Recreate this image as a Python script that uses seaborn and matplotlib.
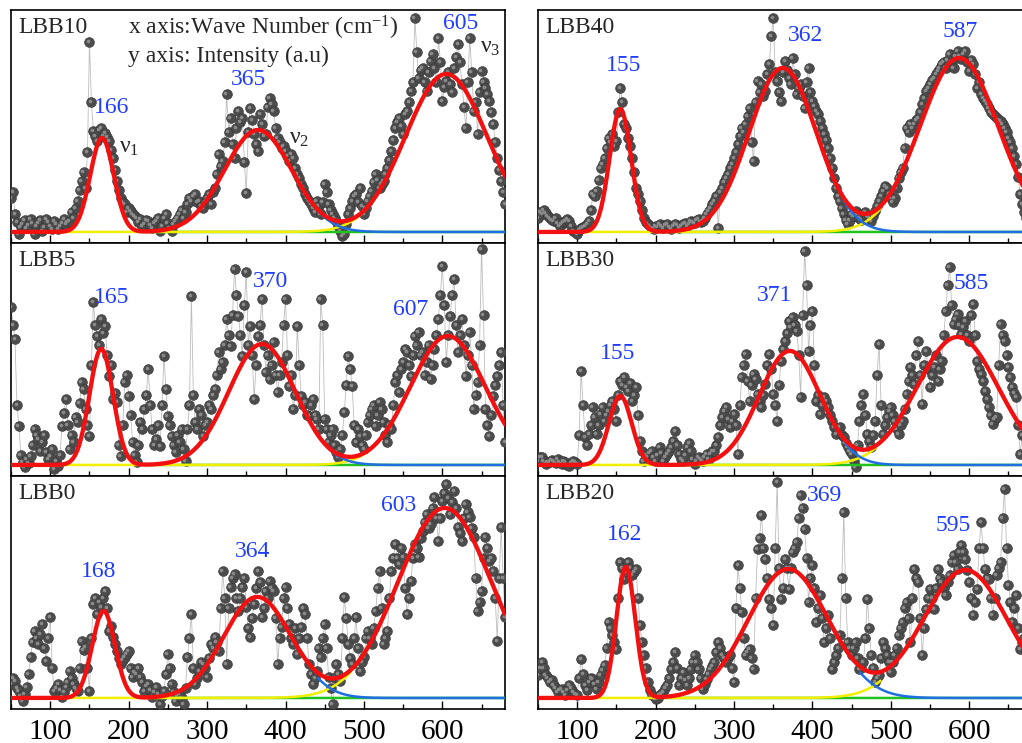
import numpy as np
import pandas as pd
import matplotlib
matplotlib.use("Agg")
import matplotlib.pyplot as plt
from matplotlib.transforms import offset_copy
from matplotlib.ticker import MultipleLocator
import seaborn as sns

# Raman wave-number grid (cm^-1), one reading every 2.5 cm^-1
WAVENUMBER = np.arange(50, 680.1, 2.5)

# Measured intensities (a.u.) for each sample, each row covers 25 cm^-1
LBB10 = [34, 40, 18, 10, -2, 5, 8, 12, 4, 7,
         13, 9, -2, 6, 9, 12, 1, 5, 13, 10,
         6, 3, 11, 8, 3, 6, 9, 13, 8, 10,
         11, 20, 14, 24, 31, 42, 51, 60, 44, 80,
         190, 130, 101, 96, 91, 102, 104, 96, 99, 95,
         91, 82, 74, 62, 51, 42, 34, 30, 28, 20,
         24, 21, 18, 16, 14, 10, 13, 6, 8, 12,
         11, 7, 4, 9, 11, 14, 1, 6, 14, 18,
         9, 4, 1, 8, 11, 14, 18, 22, 14, 20,
         28, 34, 31, 36, 38, 30, 31, 26, 24, 30,
         34, 38, 28, 40, 44, 58, 78, 66, 71, 90,
         138, 100, 114, 88, 74, 104, 121, 110, 114, 70,
         39, 100, 124, 112, 98, 88, 81, 118, 108, 96,
         98, 125, 134, 128, 121, 104, 94, 90, 84, 86,
         81, 76, 71, 78, 74, 64, 58, 54, 48, 44,
         38, 34, 31, 28, 24, 20, 31, 26, 18, 30,
         48, 40, 28, 22, 18, 14, 11, 6, 1, -4,
         -2, 8, 18, 24, 31, 36, 38, 30, 44, 26,
         18, 24, 31, 36, 41, 50, 58, 52, 44, 48,
         51, 58, 64, 72, 81, 92, 104, 110, 114, 106,
         98, 118, 121, 130, 141, 150, 214, 180, 154, 162,
         164, 150, 141, 160, 171, 178, 164, 150, 194, 170,
         131, 145, 151, 160, 148, 140, 164, 175, 188, 170,
         148, 125, 104, 150, 194, 160, 121, 130, 98, 140,
         161, 150, 144, 138, 131, 120, 108, 90, 74, 62,
         51, 40, 28]

LBB5 = [158, 140, 126, 60, 39, 10, 3, -2, 6, 2,
        9, 20, 36, 30, 26, 14, 23, 30, 13, 6,
        9, 16, -4, 4, -1, 10, 39, 52, 66, 40,
        16, 30, 23, 48, 43, 62, 83, 76, 56, 40,
        29, 100, 163, 140, 129, 120, 146, 132, 139, 110,
        89, 100, 66, 72, 63, 20, 9, 40, 83, 90,
        69, 50, 23, 10, 3, 20, 43, 36, 56, 70,
        96, 60, 36, 20, 26, 40, 19, 60, 109, 76,
        49, 40, 29, 20, 13, 30, 23, 36, 16, 4,
        36, 60, 169, 70, 43, 36, 56, 50, 29, 40,
        43, 60, 56, 70, 76, 90, 113, 96, 103, 120,
        146, 130, 119, 150, 196, 170, 149, 130, 109, 160,
        193, 120, 139, 110, 66, 100, 129, 140, 166, 120,
        93, 110, 86, 100, 123, 90, 73, 90, 103, 140,
        166, 110, 79, 90, 56, 70, 139, 100, 69, 60,
        63, 50, 49, 60, 66, 50, 46, 36, 166, 140,
        46, 36, 23, 30, 36, 20, 13, 8, 16, 30,
        53, 80, 109, 96, 79, 40, 23, 36, 29, 20,
        16, 30, 43, 50, 56, 60, 39, 50, 63, 56,
        43, 30, 23, 40, 36, 60, 83, 90, 73, 96,
        103, 116, 113, 100, 89, 110, 129, 120, 133, 110,
        113, 90, 103, 120, 86, 100, 116, 130, 146, 170,
        199, 160, 103, 130, 149, 170, 186, 140, 113, 130,
        146, 120, 89, 110, 133, 100, 56, 70, 83, 120,
        216, 150, 56, 40, 29, 50, 69, 80, 89, 100,
        113, 60, 23]

LBB0 = [14, 20, 17, 10, 7, 2, -3, 4, 11, 24,
        41, 56, 67, 60, 54, 64, 74, 50, 37, 60,
        81, 30, 7, 10, 14, 8, 1, 6, 11, 16,
        27, 20, 14, 10, 7, 30, 57, 48, 51, 30,
        7, 60, 94, 100, 84, 96, 91, 100, 107, 90,
        67, 72, 61, 54, 47, 40, 34, 38, 41, 44,
        47, 30, 21, 26, 24, 30, 21, 16, 7, 12,
        14, 8, 1, 6, 11, 4, -6, 2, 7, 24,
        44, 30, 14, 6, -3, 2, 4, 0, -6, 10,
        41, 60, 84, 30, 14, 20, 27, 36, 34, 30,
        21, 40, 54, 50, 61, 56, 47, 90, 127, 100,
        34, 90, 111, 120, 124, 100, 87, 100, 111, 120,
        91, 70, 61, 80, 94, 110, 127, 116, 81, 90,
        107, 100, 117, 110, 107, 80, 34, 60, 71, 100,
        111, 90, 74, 60, 54, 70, 44, 60, 71, 90,
        84, 60, 34, 24, 14, 20, 27, 50, 41, 60,
        74, 50, 21, 10, -6, 20, 34, 24, 17, 60,
        101, 80, 54, 40, 34, 60, 81, 50, 27, 36,
        41, 60, 67, 60, 54, 70, 87, 110, 127, 90,
        54, 60, 67, 100, 127, 140, 154, 140, 134, 150,
        141, 110, 84, 100, 117, 140, 154, 150, 141, 160,
        167, 176, 184, 170, 174, 190, 201, 180, 157, 180,
        197, 205, 214, 200, 184, 196, 207, 190, 171, 165,
        157, 180, 194, 186, 181, 170, 161, 120, 87, 96,
        107, 140, 161, 150, 137, 140, 127, 100, 57, 120,
        171, 120, 81]

LBB40 = [14, 20, 18, 22, 19, 16, 14, 12, 11, 14,
         9, 6, 8, 10, 11, 13, 11, 6, 1, 0,
         -2, 2, 4, 5, 6, 8, 11, 22, 38, 36,
         41, 52, 64, 68, 74, 84, 94, 90, 98, 86,
         91, 120, 144, 130, 108, 104, 94, 86, 74, 60,
         44, 38, 31, 22, 14, 10, 8, 6, 4, 3,
         6, 5, 8, 6, 4, 7, 8, 5, 3, 6,
         8, 7, 4, 6, 8, 9, 6, 8, 11, 10,
         9, 12, 13, 10, 11, 14, 18, 21, 24, 28,
         31, 36, 4, 40, 44, 50, 54, 58, 64, 68,
         74, 80, 88, 96, 104, 100, 108, 116, 124, 90,
         71, 130, 151, 140, 148, 136, 141, 158, 168, 196,
         214, 160, 151, 140, 131, 160, 171, 162, 154, 148,
         174, 158, 138, 144, 148, 136, 124, 150, 164, 140,
         131, 126, 121, 118, 111, 104, 98, 92, 84, 74,
         64, 54, 44, 36, 31, 24, 18, 12, 8, 12,
         18, 16, 21, 18, 14, 12, 18, 20, 16, 14,
         11, 16, 21, 26, 31, 36, 41, 46, 44, 38,
         34, 30, 34, 44, 54, 60, 64, 84, 104, 100,
         108, 104, 108, 112, 114, 120, 128, 134, 141, 144,
         148, 152, 154, 158, 161, 164, 168, 170, 164, 172,
         178, 170, 164, 176, 181, 176, 173, 178, 181, 170,
         161, 172, 168, 158, 144, 150, 138, 134, 131, 128,
         124, 120, 118, 116, 114, 112, 111, 108, 104, 100,
         94, 90, 84, 76, 68, 55, 38, 28, 20, 14,
         10, 9, 8]

LBB30 = [4, 8, 8, 4, 1, 3, 3, 5, 4, 2,
         6, 3, 1, 4, 3, 0, -1, 2, 4, 3,
         1, 30, 94, 60, 28, 20, 31, 40, 58, 48,
         31, 40, 51, 58, 44, 50, 54, 60, 64, 56,
         44, 70, 84, 80, 88, 78, 74, 82, 64, 70,
         78, 50, 24, 14, 4, 10, 8, 12, 14, 8,
         4, 10, 18, 12, 4, 8, 11, 14, 18, 24,
         34, 20, 11, 6, 4, 10, 18, 22, 14, 6,
         1, 4, 8, 6, 4, 8, 11, 6, 11, 14,
         14, 20, 28, 40, 48, 54, 58, 46, 38, 44,
         51, 40, 11, 60, 88, 100, 111, 84, 64, 80,
         91, 86, 71, 64, 58, 70, 81, 100, 111, 96,
         71, 60, 44, 80, 104, 116, 124, 132, 144, 138,
         148, 140, 134, 110, 68, 150, 214, 180, 114, 140,
         154, 100, 64, 70, 51, 60, 68, 64, 58, 50,
         44, 38, 31, 36, 38, 30, 28, 22, 18, 14,
         11, 4, -2, 20, 44, 60, 71, 50, 31, 24,
         18, 30, 44, 90, 121, 60, 31, 40, 48, 54,
         58, 50, 44, 36, 31, 40, 44, 56, 71, 84,
         98, 90, 81, 110, 124, 90, 61, 100, 114, 96,
         78, 90, 98, 110, 84, 96, 104, 130, 154, 180,
         198, 160, 141, 146, 151, 140, 131, 138, 144, 130,
         124, 150, 161, 130, 104, 96, 91, 84, 74, 66,
         58, 50, 41, 46, 48, 100, 141, 130, 124, 110,
         98, 88, 78, 72, 68, 40, 11, 30, 40, 36,
         30, 24, 20]

LBB20 = [23, 30, 36, 30, 23, 20, 16, 18, 13, 10,
         6, 8, 9, 6, 3, 8, 13, 10, 6, 4,
         3, 20, 39, 24, 13, 8, 16, 20, 19, 14,
         9, 16, 23, 28, 33, 50, 76, 70, 63, 56,
         49, 100, 136, 130, 119, 126, 136, 130, 123, 126,
         129, 100, 73, 56, 43, 30, 16, 8, 3, 2,
         -1, 0, 3, 4, 6, 10, 13, 20, 29, 36,
         46, 30, 13, 20, 26, 18, 13, 20, 29, 36,
         43, 36, 29, 20, 9, 14, 19, 24, 29, 32,
         36, 46, 56, 50, 43, 40, 36, 40, 43, 30,
         16, 90, 133, 110, 86, 60, 43, 46, 49, 40,
         29, 100, 149, 160, 183, 150, 139, 120, 99, 90,
         73, 150, 216, 130, 99, 110, 139, 130, 109, 130,
         146, 150, 156, 180, 203, 190, 169, 140, 96, 120,
         133, 110, 76, 90, 103, 80, 56, 70, 83, 60,
         29, 36, 43, 50, 63, 120, 186, 100, 56, 50,
         43, 50, 56, 40, 29, 30, 36, 60, 99, 70,
         43, 30, 16, 20, 23, 40, 56, 50, 43, 36,
         26, 36, 43, 50, 63, 70, 76, 90, 96, 80,
         56, 100, 129, 120, 116, 80, 43, 70, 89, 100,
         109, 100, 89, 110, 129, 120, 116, 110, 103, 116,
         123, 136, 143, 136, 129, 146, 153, 146, 139, 128,
         116, 100, 83, 96, 109, 150, 176, 150, 129, 120,
         119, 100, 83, 100, 123, 130, 136, 180, 209, 150,
         113, 96, 76, 90, 103, 70, 49, 56, 60, 50,
         40, 34, 30]

# Fitted band positions (cm^-1), amplitudes and widths for nu1, nu2, nu3
PEAKS = {"LBB10": [166, 365, 605], "LBB5": [165, 370, 607], "LBB0": [168, 364, 603],
         "LBB40": [155, 362, 587], "LBB30": [155, 371, 585], "LBB20": [162, 369, 595]}
AMPS = {"LBB10": [94, 102, 158], "LBB5": [116, 121, 129], "LBB0": [87, 101, 190],
        "LBB40": [123, 164, 174], "LBB30": [69, 114, 128], "LBB20": [131, 129, 128]}
SIGMAS = {"LBB10": [15, 43, 52], "LBB5": [15, 42.5, 48], "LBB0": [14.5, 43, 60],
          "LBB40": [13.6, 43, 50], "LBB30": [14.5, 39, 52], "LBB20": [12, 51, 54]}

# Where the band-position labels sit (x in cm^-1, y in a.u.)
LABEL_POS = {"LBB10": [(178, 124), (353, 152), (623, 208)],
             "LBB5": [(178, 167), (381, 183), (559, 155)],
             "LBB0": [(162, 126), (358, 146), (544, 192)],
             "LBB40": [(159, 166), (391, 196), (588, 200)],
             "LBB30": [(152, 111), (352, 169), (603, 181)],
             "LBB20": [(161, 163), (415, 202), (579, 172)]}

DATA = {"LBB10": LBB10, "LBB5": LBB5, "LBB0": LBB0,
        "LBB40": LBB40, "LBB30": LBB30, "LBB20": LBB20}
LAYOUT = [["LBB10", "LBB40"], ["LBB5", "LBB30"], ["LBB0", "LBB20"]]

sns.set_style("white")
plt.rcParams["font.family"] = ["Liberation Serif", "DejaVu Serif"]
plt.rcParams["mathtext.fontset"] = "custom"
plt.rcParams["mathtext.rm"] = "Liberation Serif"
plt.rcParams["mathtext.it"] = "Liberation Serif:italic"

fig = plt.figure(figsize=(10.22, 7.43), dpi=100)

col_left = [0.0108, 0.5264]
col_width = 0.4834
row_bottom = [0.673, 0.3594, 0.0458]
row_height = 0.3136

BLUE_TXT = "#1f3dff"
fine = np.linspace(50, 680, 800)

for r, row in enumerate(LAYOUT):
    for c, name in enumerate(row):
        ax = fig.add_axes([col_left[c], row_bottom[r], col_width, row_height])
        df = pd.DataFrame({"wn": WAVENUMBER, "I": DATA[name]})

        sns.lineplot(data=df, x="wn", y="I", ax=ax, color="#bdbdbd", lw=0.6,
                     sort=False, estimator=None, zorder=2)
        sns.scatterplot(data=df, x="wn", y="I", ax=ax, s=50, color="#4c4c4c",
                        edgecolor="#363636", linewidth=0.4, zorder=3)
        hl = offset_copy(ax.transData, fig=fig, x=-1.4, y=1.4, units="dots")
        sns.scatterplot(data=df, x="wn", y="I", ax=ax, s=7, color="#8a8a8a",
                        linewidth=0, zorder=4, transform=hl)

        comps = [a * np.exp(-(fine - p) ** 2 / (2 * s ** 2))
                 for p, a, s in zip(PEAKS[name], AMPS[name], SIGMAS[name])]
        total = comps[0] + comps[1] + comps[2]
        p2, p3 = PEAKS[name][1], PEAKS[name][2]
        s2, s3 = SIGMAS[name][1], SIGMAS[name][2]

        ax.plot(fine, comps[0], color="#22c21c", lw=1.8, zorder=5)
        m3 = fine <= p3 - 2.0 * s3
        ax.plot(fine[m3], comps[2][m3], color="#f2ee00", lw=1.8, zorder=6)
        m2 = fine >= p2 + 1.8 * s2
        ax.plot(fine[m2], comps[1][m2], color="#1f6fe0", lw=1.8, zorder=6)
        sns.lineplot(x=fine, y=total, ax=ax, color="#f21010", lw=3.1, zorder=7)

        for pk, (lx, ly) in zip(PEAKS[name], LABEL_POS[name]):
            ax.text(lx, ly, f"{pk}", color=BLUE_TXT, fontsize=17,
                    ha="center", va="center", zorder=8)

        ax.text(0.014, 0.925, name, transform=ax.transAxes, fontsize=17,
                ha="left", va="center", zorder=8)

        ax.set_xlim(50, 680)
        ax.set_ylim(-11, 222)
        ax.set_xlabel("")
        ax.set_ylabel("")
        ax.set_yticks([])
        ax.xaxis.set_major_locator(MultipleLocator(100))
        ax.xaxis.set_minor_locator(MultipleLocator(50))
        ax.tick_params(axis="x", which="both", direction="in", top=False,
                       bottom=True, labelsize=21, pad=7, colors="black")
        ax.tick_params(axis="x", which="major", length=6, width=1.0)
        ax.tick_params(axis="x", which="minor", length=3.5, width=1.0)
        if r < 2:
            ax.tick_params(axis="x", labelbottom=False)
        for sp in ax.spines.values():
            sp.set_color("black")
            sp.set_linewidth(1.2)
            sp.set_visible(True)
        if name == "LBB10":
            ax.text(199, 204, r"x axis:Wave Number (cm$^{-1}$)", fontsize=17,
                    ha="left", va="center", zorder=8)
            ax.text(199, 176, "y axis: Intensity (a.u)", fontsize=17,
                    ha="left", va="center", zorder=8)
            ax.text(200, 84, r"$\mathrm{\nu}_{1}$", fontsize=17, ha="center",
                    va="center", zorder=8)
            ax.text(417, 93, r"$\mathrm{\nu}_{2}$", fontsize=17, ha="center",
                    va="center", zorder=8)
            ax.text(661, 184, r"$\mathrm{\nu}_{3}$", fontsize=17, ha="center",
                    va="center", zorder=8)

fig.savefig("out.png", dpi=100)
